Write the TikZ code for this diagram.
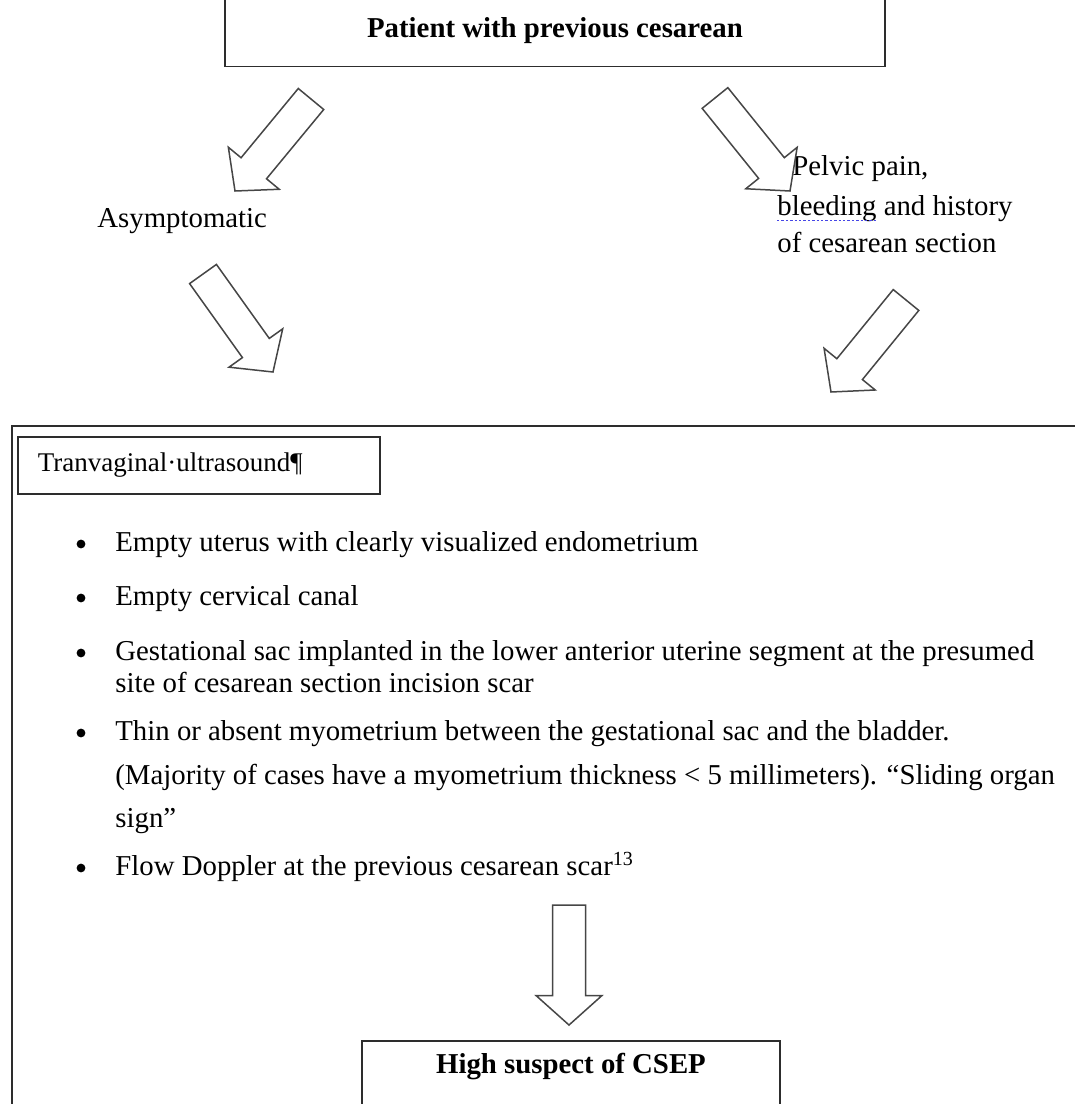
\documentclass[tikz,border=0pt]{standalone}
\usepackage{fontspec}
\setmainfont{Liberation Serif}
\usepackage{tikz}
\usetikzlibrary{calc,positioning}
\definecolor{boxline}{RGB}{45,45,45}
\definecolor{arrline}{RGB}{70,70,70}
\definecolor{spellblue}{RGB}{70,70,230}
\newcommand{\bodysize}{\fontsize{14.4pt}{19pt}\selectfont}
\newcommand{\arrshaft}{8.25pt}
\newcommand{\arrhead}{16.5pt}
\newcommand{\arrheadlen}{14.75pt}
% block arrow: name, tail middle, tip
\newcommand{\blockarrow}[3]{%
  \coordinate (#1n) at ($(#3)!\arrheadlen!(#2)$);
  \draw[blockarr] ($(#2)!\arrshaft!90:(#3)$) -- ($(#1n)!\arrshaft!90:(#3)$)
    -- ($(#1n)!\arrhead!90:(#3)$) -- (#3) -- ($(#1n)!\arrhead!-90:(#3)$)
    -- ($(#1n)!\arrshaft!-90:(#3)$) -- ($(#2)!\arrshaft!-90:(#3)$) -- cycle;
}

\begin{document}
\begin{tikzpicture}[x=0.5pt,y=-0.5pt,
    flowbox/.style={draw=boxline,line width=0.75pt,inner sep=0pt,font=\bodysize\bfseries},
    txt/.style={inner sep=0pt,font=\bodysize,anchor=mid west},
    labelbox/.style={draw=boxline,line width=0.75pt,inner xsep=10pt,inner ysep=0pt,
      align=left,font=\fontsize{13.5pt}{15pt}\selectfont},
    blockarr/.style={draw=arrline,line width=0.75pt,line join=miter,fill=white},
    spell/.style={spellblue,line width=0.8pt,dash pattern=on 1.2pt off 1pt}]
  \useasboundingbox (0,0) rectangle (1075,1104);
  \clip (0,0) rectangle (1075,1104);

  % top of the chart
  \node[flowbox,anchor=south,minimum width=330pt,text height=30pt,text depth=14.5pt]
    (patient) at (555,67) {Patient with previous cesarean};

  % the two branches
  \node[txt] (asym) at (97,223) {Asymptomatic};
  \node[txt] (pel1) at (792,171) {Pelvic pain,};
  \node[txt] (pel2) at (777,211) {bleeding and history};
  \node[txt] (pel3) at (777,248) {of cesarean section};
  \draw[spell] ($(pel2.base west)+(0,5)$) -- ++(100,0);

  \coordinate (a1s) at (311,99);  \coordinate (a1t) at (235,191);
  \coordinate (a2s) at (715,98);  \coordinate (a2t) at (790,191);
  \coordinate (a3s) at (203,274); \coordinate (a3t) at (273,372);
  \coordinate (a4s) at (906,300); \coordinate (a4t) at (831,392);
  \blockarrow{a1}{a1s}{a1t}
  \blockarrow{a2}{a2s}{a2t}
  \blockarrow{a3}{a3s}{a3t}
  \blockarrow{a4}{a4s}{a4t}

  % ultrasound findings
  \node[draw=boxline,line width=0.75pt,anchor=north west,minimum width=560pt,
    minimum height=400pt] (tvus) at (11,425) {};
  \node[labelbox,anchor=north west,text width=161pt,minimum height=28.5pt]
    (tvlabel) at (17,436) {Tranvaginal·ultrasound¶};

  \node[txt] (b1) at (115,547) {Empty uterus with clearly visualized endometrium};
  \node[txt] (b2) at (115,601) {Empty cervical canal};
  \node[txt] (b3) at (115,656) {Gestational sac implanted in the lower anterior uterine segment at the presumed};
  \node[txt] (b3b) at (115,688) {site of cesarean section incision scar};
  \node[txt] (b4) at (115,736) {Thin or absent myometrium between the gestational sac and the bladder.};
  \node[txt] (b4b) at (115,780) {(Majority of cases have a myometrium thickness < 5 millimeters). “Sliding organ};
  \node[txt] (b4c) at (115,823) {sign”};
  \node[txt] (b5) at (115,871) {Flow Doppler at the previous cesarean scar\textsuperscript{13}};
  \foreach \b in {b1,b2,b3,b4,b5}
    \fill ($(\b.mid west)+(-34,-3)$) circle[radius=2.2pt];

  % result
  \coordinate (a5s) at (569,905); \coordinate (a5t) at (569,1025);
  \blockarrow{a5}{a5s}{a5t}
  \node[flowbox,anchor=north,minimum width=209pt,text height=16.5pt,text depth=30pt]
    (csep) at (571,1040) {High suspect of CSEP};
\end{tikzpicture}
\end{document}
